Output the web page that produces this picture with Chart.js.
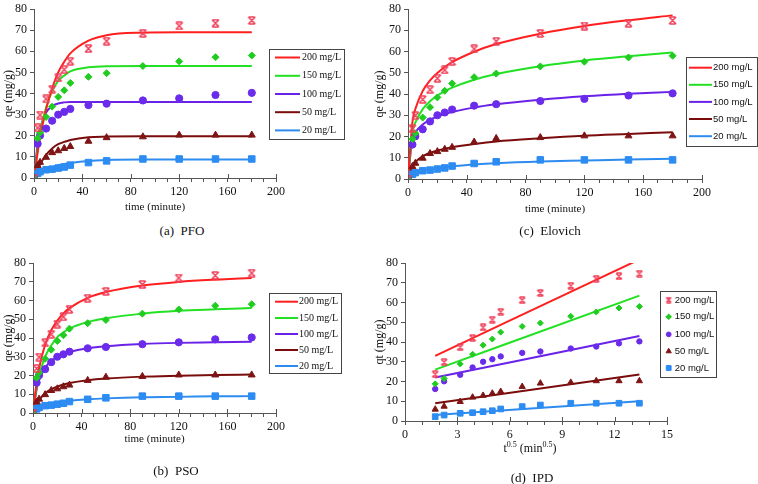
<!DOCTYPE html>
<html>
<head>
<meta charset="utf-8">
<script src="https://cdn.jsdelivr.net/npm/chart.js@4.4.0/dist/chart.umd.min.js"></script>
<style>
  body { margin: 0; background: #fff; width: 758px; height: 484px; position: relative; overflow: hidden;
         font-family: "Liberation Serif", "Times New Roman", serif; color: #111; }
  canvas { position: absolute; }
  .cap { position: absolute; font-size: 13px; line-height: 15px; white-space: nowrap; transform: translateX(-50%); }
  .xt { position: absolute; font-size: 12px; line-height: 14px; white-space: nowrap; transform: translateX(-50%); }
  .xt sup { font-size: 8px; vertical-align: 5px; line-height: 0; }
</style>
</head>
<body>
<canvas id="pfo" width="380" height="222" style="left:0;top:0"></canvas>
<canvas id="elovich" width="390" height="222" style="left:368px;top:0"></canvas>
<canvas id="pso" width="380" height="244" style="left:0;top:240px"></canvas>
<canvas id="ipd" width="390" height="244" style="left:368px;top:240px"></canvas>

<div class="cap" style="left:182px;top:223px">(a)&nbsp; PFO</div>
<div class="cap" style="left:550px;top:223px">(c)&nbsp; Elovich</div>
<div class="cap" style="left:176px;top:463px">(b)&nbsp; PSO</div>
<div class="cap" style="left:532px;top:470px">(d)&nbsp; IPD</div>
<div class="xt" style="left:530px;top:441px">t<sup>0.5</sup> (min<sup>0.5</sup>)</div>

<script>
// ---------------------------
// Datos
// ---------------------------
const seriesLabels = ["200 mg/L", "150 mg/L", "100 mg/L", "50 mg/L", "20 mg/L"];

const timeMin = [0, 3, 5, 10, 15, 20, 25, 30, 45, 60, 90, 120, 150, 180];
const sqrtTime = [1.73, 2.24, 3.16, 3.87, 4.47, 5.00, 5.48, 6.71, 7.75, 9.49, 10.95, 12.25, 13.42];

// puntos experimentales qt (mg/g)
const q200 = [0, 23.7, 29.8, 37.4, 42, 47.4, 51.3, 55.3, 61.2, 64.8, 68.5, 72, 73.3, 74.6];
const q150 = [0, 18.8, 21.5, 28.9, 33.8, 38.4, 41.5, 45, 47.9, 49.6, 53, 55.2, 57.2, 58];
const q100 = [0, 16.2, 20.1, 23.4, 27.1, 30, 31.3, 32.7, 34.5, 35.2, 36.7, 37.7, 39.3, 40.3];
const q50 = [0, 5.9, 7.4, 9.8, 12, 12.9, 14, 14.9, 17.4, 19.1, 19.5, 20.3, 20.3, 20.3];
const q20 = [0, 2.2, 3, 3.9, 4.2, 4.7, 5.2, 6.1, 7.3, 8.1, 9, 9, 9, 9];

// curvas PFO
const pfo200 = [0, 12, 19, 32.5, 42.5, 50, 55, 59, 65, 67.6, 68.8, 69, 69, 69];
const pfo150 = [0, 13.5, 21, 33.5, 41, 46, 48.5, 50.5, 52.4, 52.9, 53, 53, 53, 53];
const pfo100 = [0, 16, 23, 31, 34, 35.3, 35.8, 36, 36, 36, 36, 36, 36, 36];
const pfo50 = [0, 4.5, 6.5, 11, 14, 16, 17.1, 18, 19.3, 19.6, 19.8, 19.8, 19.8, 19.8];
const pfo20 = [0, 1.6, 2.4, 3.9, 5, 6, 6.6, 7.1, 8.1, 8.5, 8.7, 8.7, 8.7, 8.7];

// curvas PSO
const pso200 = [0, 16.4, 23.9, 36.4, 44.1, 49.3, 53.1, 55.9, 61.4, 64.5, 68, 69.9, 71.1, 72];
const pso150 = [0, 14, 20, 30, 36, 40.5, 43, 45, 48.5, 50.5, 53, 54.5, 55.3, 56];
const pso100 = [0, 12.7, 17.4, 24.2, 27.7, 29.9, 31.4, 32.5, 34.5, 35.6, 36.8, 37.4, 37.7, 38];
const pso50 = [0, 4.7, 6.9, 10.5, 12.7, 14.1, 15.2, 16, 17.5, 18.4, 19.4, 19.9, 20.3, 20.5];
const pso20 = [0, 1.6, 2.4, 3.9, 4.9, 5.6, 6.1, 6.5, 7.3, 7.8, 8.4, 8.6, 8.9, 9];

// curvas Elovich
const elo200 = [0, 26.6, 32.9, 41.4, 46.4, 49.9, 52.7, 55, 59.9, 63.5, 68.4, 72, 74.7, 77];
const elo150 = [0, 21.8, 26.5, 32.9, 36.6, 39.3, 41.3, 43, 46.7, 49.4, 53.1, 55.8, 57.8, 59.5];
const elo100 = [0, 19.3, 22, 25.7, 27.9, 29.4, 30.6, 31.5, 33.7, 35.2, 37.3, 38.9, 40.1, 41];
const elo50 = [0, 6, 8, 10.7, 12.3, 13.4, 14.3, 15, 16.5, 17.7, 19.2, 20.4, 21.2, 22];
const elo20 = [0, 1.5, 2.5, 3.9, 4.7, 5.2, 5.7, 6, 6.8, 7.4, 8.2, 8.7, 9.2, 9.5];

// rectas IPD (extremos)
const ipdX = [1.73, 13.42];
const ipd200 = [33, 81.8];
const ipd150 = [26, 63.5];
const ipd100 = [22, 43];
const ipd50 = [9, 23.5];
const ipd20 = [3, 10];

// ---------------------------
// Estilos
// ---------------------------
const serif = '"Liberation Serif", "Times New Roman", serif';
const sans = '"Liberation Sans", Arial, sans-serif';
const lineColors = ["#FF1F1F", "#22E022", "#6A22E8", "#7A0C0C", "#2E8BF0"];
const markColors = ["#F0405A", "#20CC20", "#6A2BEA", "#7E1414", "#2C8CF2"];
const axisColor = "#555";

// marcador "x" con barras arriba y abajo
function xMarker(size, color) {
    const c = document.createElement("canvas");
    c.width = c.height = size + 2;
    const g = c.getContext("2d");
    const a = 1, b = size + 1;
    g.strokeStyle = color;
    g.lineWidth = 1.5;
    g.beginPath();
    g.moveTo(a, a); g.lineTo(b, b);
    g.moveTo(b, a); g.lineTo(a, b);
    g.moveTo(a + 0.5, a); g.lineTo(b - 0.5, a);
    g.moveTo(a + 0.5, b); g.lineTo(b - 0.5, b);
    g.stroke();
    return c;
}

const bigMarks = [
    { style: xMarker(7, markColors[0]), r: 4 },
    { style: "rectRot", r: 3.5 },
    { style: "circle", r: 3.6 },
    { style: "triangle", r: 4 },
    { style: "rect", r: 4.6 }
];
const smallMarks = [
    { style: xMarker(6, markColors[0]), r: 3.5 },
    { style: "rectRot", r: 3 },
    { style: "circle", r: 2.7 },
    { style: "triangle", r: 3.6 },
    { style: "rect", r: 4 }
];
const legendMarks = [
    { style: xMarker(5, markColors[0]), r: 3 },
    { style: "rectRot", r: 2.8 },
    { style: "circle", r: 2.4 },
    { style: "triangle", r: 3 },
    { style: "rect", r: 3.4 }
];

function pointSet(i, xs, ys, marks) {
    return {
        label: seriesLabels[i],
        data: xs.map((x, k) => ({ x: x, y: ys[k] })),
        showLine: false,
        pointStyle: marks[i].style,
        pointRadius: marks[i].r,
        backgroundColor: markColors[i],
        borderColor: markColors[i],
        borderWidth: 1,
        order: 0
    };
}

function fitSet(i, xs, ys) {
    return {
        label: seriesLabels[i] + " fit",
        data: xs.map((x, k) => ({ x: x, y: ys[k] })),
        showLine: true,
        pointRadius: 0,
        borderColor: lineColors[i],
        borderWidth: 2,
        cubicInterpolationMode: "monotone",
        fill: false,
        order: 1
    };
}

// ---------------------------
// Plugins
// ---------------------------
const boxLegend = {
    id: "boxLegend",
    afterDraw(chart, args, o) {
        if (!o.rows) return;
        const ctx = chart.ctx;
        ctx.save();
        ctx.strokeStyle = "#444";
        ctx.lineWidth = 1;
        ctx.strokeRect(o.x + 0.5, o.y + 0.5, o.w, o.h);
        ctx.font = o.font;
        ctx.textBaseline = "middle";
        seriesLabels.forEach((lab, i) => {
            const y = o.rows[i];
            if (o.markers) {
                ctx.fillStyle = markColors[i];
                ctx.strokeStyle = markColors[i];
                ctx.lineWidth = 1;
                Chart.helpers.drawPoint(ctx, { pointStyle: legendMarks[i].style, radius: legendMarks[i].r, rotation: 0, borderWidth: 1 }, o.mx, y);
            } else {
                ctx.strokeStyle = lineColors[i];
                ctx.lineWidth = 2;
                ctx.beginPath();
                ctx.moveTo(o.x1, y);
                ctx.lineTo(o.x2, y);
                ctx.stroke();
            }
            ctx.fillStyle = "#111";
            ctx.fillText(lab, o.tx, y);
        });
        ctx.restore();
    }
};

// marcas principales que cruzan el eje x
const majorTicks = {
    id: "majorTicks",
    afterDraw(chart, args, o) {
        if (!o.step) return;
        const sx = chart.scales.x;
        const y0 = chart.chartArea.bottom;
        const ctx = chart.ctx;
        ctx.save();
        ctx.strokeStyle = axisColor;
        ctx.lineWidth = 1;
        ctx.beginPath();
        for (let v = sx.min; v <= sx.max + 1e-9; v += o.step) {
            const px = Math.round(sx.getPixelForValue(v)) + 0.5;
            ctx.moveTo(px, y0 - 4);
            ctx.lineTo(px, y0);
        }
        ctx.stroke();
        ctx.restore();
    }
};

// ---------------------------
// Crear panel
// ---------------------------
function makePanel(id, p) {
    const canvas = document.getElementById(id);
    const W = canvas.width, H = canvas.height;
    return new Chart(canvas, {
        type: "scatter",
        data: { datasets: p.datasets },
        options: {
            responsive: false,
            animation: false,
            devicePixelRatio: 1,
            layout: {
                padding: { left: 0, top: p.area.t, right: W - p.area.r, bottom: H - p.area.b - p.xH }
            },
            scales: {
                x: {
                    type: "linear",
                    min: 0,
                    max: p.xMax,
                    afterFit: s => { s.height = p.xH; },
                    border: { display: true, color: axisColor, width: 1 },
                    grid: { display: true, drawOnChartArea: false, drawTicks: true, tickLength: 4, color: axisColor },
                    ticks: {
                        stepSize: p.xStep,
                        autoSkip: false,
                        maxRotation: 0,
                        padding: 4,
                        color: "#111",
                        font: { family: serif, size: 12, lineHeight: 1 },
                        callback: v => (Math.abs(v % p.xMajor) < 1e-9 ? v : "")
                    },
                    title: {
                        display: !!p.xTitle,
                        text: p.xTitle || "",
                        color: "#111",
                        font: { family: serif, size: 11 },
                        padding: { top: 0, bottom: 0 }
                    }
                },
                y: {
                    min: 0,
                    max: 80,
                    afterFit: s => { s.width = p.area.l; },
                    border: { display: true, color: axisColor, width: 1 },
                    grid: { display: true, drawOnChartArea: false, drawTicks: true, tickLength: 4, color: axisColor },
                    ticks: {
                        stepSize: 10,
                        padding: 3,
                        color: "#111",
                        font: { family: serif, size: 12, lineHeight: 1 }
                    },
                    title: {
                        display: true,
                        text: p.yTitle,
                        color: "#111",
                        font: { family: serif, size: 12, lineHeight: 1.1 },
                        padding: { top: p.yTitlePad, bottom: 0 }
                    }
                }
            },
            plugins: {
                legend: { display: false },
                tooltip: { enabled: false },
                boxLegend: p.legend,
                majorTicks: { step: p.xMajor }
            }
        },
        plugins: [boxLegend, majorTicks]
    });
}

const qAll = [q200, q150, q100, q50, q20];
const pfoAll = [pfo200, pfo150, pfo100, pfo50, pfo20];
const psoAll = [pso200, pso150, pso100, pso50, pso20];
const eloAll = [elo200, elo150, elo100, elo50, elo20];
const ipdAll = [ipd200, ipd150, ipd100, ipd50, ipd20];

function kineticSets(fits) {
    const pts = qAll.map((q, i) => pointSet(i, timeMin, q, bigMarks));
    const lines = fits.map((f, i) => fitSet(i, timeMin, f));
    return pts.concat(lines);
}

// (a) PFO
makePanel("pfo", {
    area: { l: 34, t: 6, r: 276, b: 178 },
    xH: 36, xMax: 200, xStep: 10, xMajor: 40,
    xTitle: "time (minute)", yTitle: "qe (mg/g)", yTitlePad: 2.4,
    datasets: kineticSets(pfoAll),
    legend: { x: 269, y: 49, w: 75, h: 90, rows: [57.5, 75.8, 94, 112.2, 130.4], x1: 275, x2: 300, tx: 302, font: "10px " + serif }
});

// (c) Elovich
makePanel("elovich", {
    area: { l: 40, t: 6, r: 334, b: 179 },
    xH: 37, xMax: 200, xStep: 10, xMajor: 40,
    xTitle: "time (minute)", yTitle: "qe (mg/g)", yTitlePad: 4.9,
    datasets: kineticSets(eloAll),
    legend: { x: 318, y: 57, w: 71, h: 89, rows: [67.7, 84.8, 101.9, 119, 136.2], x1: 321, x2: 344, tx: 345, font: "9.5px " + sans }
});

// (b) PSO
makePanel("pso", {
    area: { l: 33, t: 23, r: 276, b: 173 },
    xH: 33, xMax: 200, xStep: 10, xMajor: 40,
    xTitle: "time (minute)", yTitle: "qe (mg/g)", yTitlePad: 2.4,
    datasets: kineticSets(psoAll),
    legend: { x: 269, y: 53, w: 72, h: 80, rows: [61.7, 78, 94, 110, 126], x1: 275, x2: 298, tx: 299, font: "10px " + serif }
});

// (d) IPD
const ipdSets = qAll.map((q, i) => pointSet(i, sqrtTime, q.slice(1), smallMarks))
    .concat(ipdAll.map((f, i) => fitSet(i, ipdX, f)));

makePanel("ipd", {
    area: { l: 37, t: 23, r: 299, b: 181 },
    xH: 20, xMax: 15, xStep: 1, xMajor: 3,
    xTitle: "", yTitle: "qt (mg/g)", yTitlePad: 4.9,
    datasets: ipdSets,
    legend: { x: 292, y: 51, w: 56, h: 86, rows: [60, 76.8, 94.4, 111.3, 128], markers: true, mx: 300.7, tx: 306.7, font: "9.5px " + sans }
});
</script>
</body>
</html>
